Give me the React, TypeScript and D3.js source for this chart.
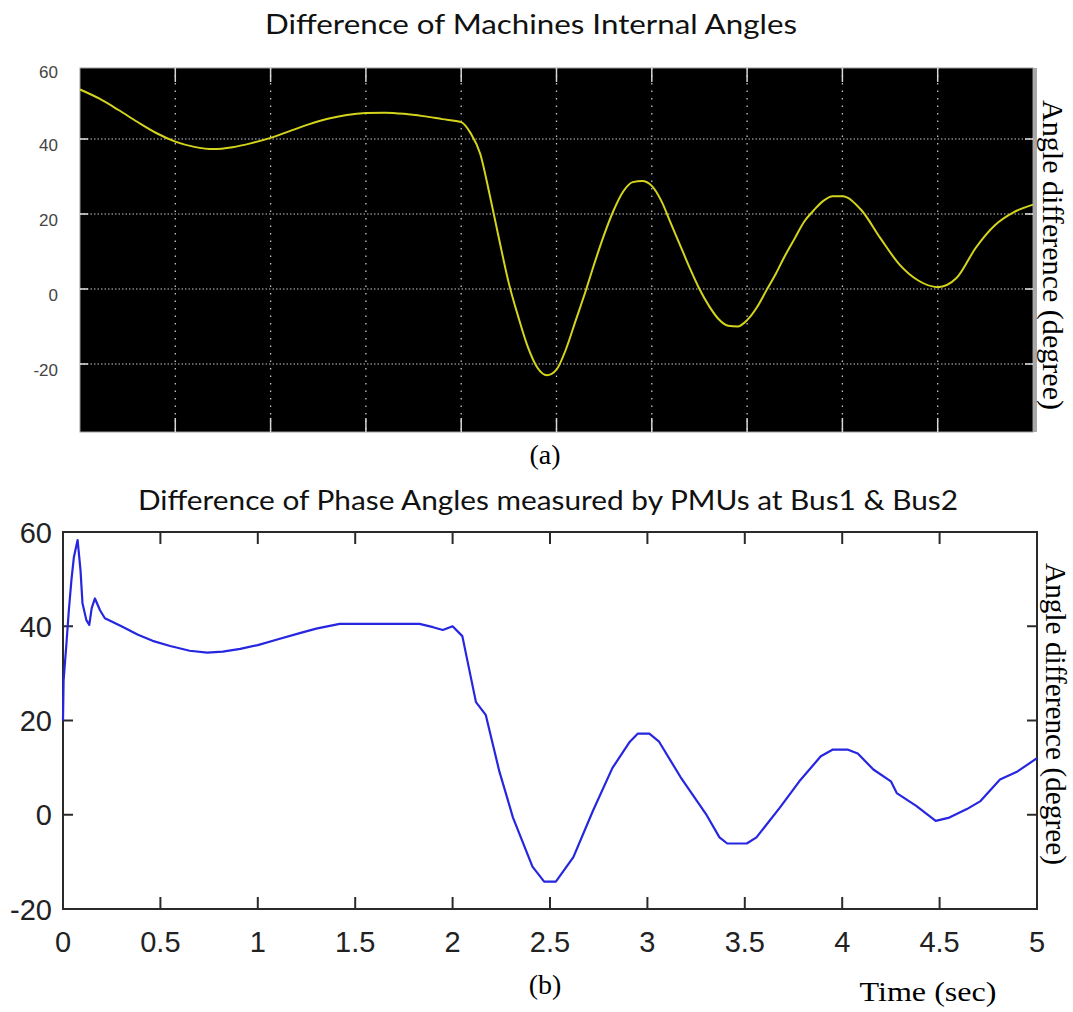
import React from "react";
import * as d3 from "d3";

// ---------- Data ----------
// Panel (a): difference of machines internal angles (degree) vs time (s)
const timeA = [0, 0.1, 0.2, 0.3, 0.4, 0.5, 0.6, 0.7, 0.8, 0.9, 1.0, 1.1, 1.2, 1.3, 1.4, 1.5, 1.6, 1.7, 1.8, 1.9, 2.0,
  2.05, 2.1, 2.15, 2.2, 2.25, 2.3, 2.35, 2.4, 2.45, 2.5, 2.55, 2.6, 2.65, 2.7, 2.75, 2.8, 2.85, 2.9, 2.95, 3.0,
  3.05, 3.1, 3.15, 3.2, 3.25, 3.3, 3.35, 3.4, 3.45, 3.5, 3.55, 3.6, 3.65, 3.7, 3.75, 3.8, 3.85, 3.9, 3.95, 4.0,
  4.1, 4.2, 4.3, 4.4, 4.5, 4.6, 4.7, 4.8, 4.9, 5.0];
const angleA = [53.2, 50.8, 47.8, 44.6, 41.6, 39.3, 37.9, 37.3, 37.8, 38.9, 40.3, 42.1, 43.9, 45.4, 46.4, 46.9, 47.0, 46.7, 46.1, 45.3, 44.5,
  41.5, 36.0, 25.0, 13.0, 1.5, -7.5, -15.5, -21.0, -23.0, -21.5, -16.0, -8.5, -1.0, 7.0, 14.5, 21.0, 26.0, 28.5, 28.8, 27.5,
  23.5, 17.5, 11.5, 5.5, 0.0, -4.5, -8.0, -9.8, -10.0, -8.3, -5.0, -0.5, 4.0, 9.0, 13.5, 18.0, 21.0, 23.5, 24.7, 24.7,
  21.0, 13.5, 6.5, 2.2, 0.5, 3.0, 11.0, 17.0, 20.5, 22.5];

// Panel (b): difference of phase angles measured by PMUs at Bus1 & Bus2
const timeB = [0, 0.003, 0.018, 0.03, 0.043, 0.056, 0.075, 0.09, 0.1, 0.12, 0.135, 0.147, 0.164, 0.19, 0.215, 0.3, 0.385,
  0.46, 0.55, 0.65, 0.74, 0.82, 0.91, 1.0, 1.1, 1.22, 1.3, 1.42, 1.6, 1.83, 1.9, 1.95, 2.0, 2.05, 2.12, 2.17, 2.24,
  2.31, 2.41, 2.47, 2.53, 2.62, 2.72, 2.82, 2.91, 2.95, 3.01, 3.06, 3.17, 3.3, 3.37, 3.41, 3.51, 3.56, 3.68, 3.78,
  3.89, 3.95, 4.03, 4.08, 4.16, 4.25, 4.28, 4.38, 4.48, 4.55, 4.64, 4.71, 4.81, 4.9, 5.0];
const angleB = [20, 28.5, 36.5, 43.4, 49.7, 54.7, 58.3, 51.8, 44.9, 41.3, 40.3, 43.8, 45.9, 43.4, 41.7, 40.0, 38.2,
  36.9, 35.8, 34.8, 34.4, 34.6, 35.2, 36.0, 37.2, 38.6, 39.5, 40.5, 40.5, 40.5, 39.8, 39.2, 40.0, 37.9, 23.9, 21.2, 9.2,
  -0.6, -11.0, -14.2, -14.2, -9.0, 0.8, 9.9, 15.5, 17.2, 17.2, 15.5, 8.0, 0.2, -4.8, -6.1, -6.1, -4.8, 1.5, 7.1,
  12.4, 13.8, 13.8, 13.0, 9.6, 7.1, 4.6, 1.9, -1.3, -0.6, 1.2, 2.9, 7.5, 9.2, 12.0];

// Ticks and labels
const titleA = "Difference of Machines Internal Angles";
const titleB = "Difference of Phase Angles measured by PMUs at Bus1 & Bus2";
const yTicksA = [60, 40, 20, 0, -20];
const yGridA = [40, 20, 0, -20];
const xGridA = [0.5, 1, 1.5, 2, 2.5, 3, 3.5, 4, 4.5];
const yTicksB = [60, 40, 20, 0, -20];
const xTicksB = [0, 0.5, 1, 1.5, 2, 2.5, 3, 3.5, 4, 4.5, 5];
const xTickLabelsB = ["0", "0.5", "1", "1.5", "2", "2.5", "3", "3.5", "4", "4.5", "5"];
const yAxisLabel = "Angle difference (degree)";
const xAxisLabel = "Time (sec)";

export default function App() {
  // Panel A scales
  const xA = d3.scaleLinear().domain([0, 5]).range([80, 1033]);
  const yA = d3.scaleLinear().domain([-38.13, 58.93]).range([432, 68]);
  // Panel B scales
  const xB = d3.scaleLinear().domain([0, 5]).range([63, 1037]);
  const yB = d3.scaleLinear().domain([-20, 60]).range([909, 532]);

  const ptsA: [number, number][] = timeA.map((t, i) => [t, angleA[i]]);
  const ptsB: [number, number][] = timeB.map((t, i) => [t, angleB[i]]);

  const lineA = d3.line<[number, number]>().x(d => xA(d[0])).y(d => yA(d[1])).curve(d3.curveMonotoneX);
  const lineB = d3.line<[number, number]>().x(d => xB(d[0])).y(d => yB(d[1])).curve(d3.curveLinear);

  const [ax0, ax1] = xA.range();
  const [ay0, ay1] = [yA.range()[1], yA.range()[0]];
  const [bx0, bx1] = xB.range();
  const [by0, by1] = [yB(60), yB(-20)];

  const sans = "'Liberation Sans', Arial, sans-serif";
  const serif = "'Liberation Serif', 'Times New Roman', serif";
  const titleFont = "Lato, 'Open Sans', sans-serif";

  return (
    <svg width={1073} height={1012} style={{ position: "absolute", left: 0, top: 0, background: "#fff" }}
      xmlns="http://www.w3.org/2000/svg">
      <rect x={0} y={0} width={1073} height={1012} fill="#fff" />

      {/* ===== Panel (a) ===== */}
      <text x={531} y={34} textAnchor="middle" fontFamily={titleFont} fontSize={27} fill="#111"
        textLength={532} lengthAdjust="spacingAndGlyphs">{titleA}</text>
      <rect x={ax0} y={ay0} width={ax1 - ax0} height={ay1 - ay0} fill="#000" stroke="#9a9a9a" strokeWidth={1} />
      <rect x={ax1} y={ay0} width={4} height={ay1 - ay0} fill="#a8a8a8" />
      {yGridA.map(v => (
        <g key={"gya" + v}>
          <line x1={ax0} x2={ax1} y1={yA(v)} y2={yA(v)} stroke="#c4c4c4" strokeWidth={1.2} strokeDasharray="1.5,2" />
          <line x1={ax0} x2={ax0 + 8} y1={yA(v)} y2={yA(v)} stroke="#e0e0e0" strokeWidth={1.5} />
          <line x1={ax1 - 8} x2={ax1} y1={yA(v)} y2={yA(v)} stroke="#e0e0e0" strokeWidth={1.5} />
        </g>
      ))}
      {xGridA.map(t => (
        <g key={"gxa" + t}>
          <line x1={xA(t)} x2={xA(t)} y1={ay0} y2={ay1} stroke="#c4c4c4" strokeWidth={1.3} strokeDasharray="1.5,6" />
          <line x1={xA(t)} x2={xA(t)} y1={ay0} y2={ay0 + 14} stroke="#d8d8d8" strokeWidth={1.5} />
          <line x1={xA(t)} x2={xA(t)} y1={ay1 - 14} y2={ay1} stroke="#d8d8d8" strokeWidth={1.5} />
        </g>
      ))}
      <path d={lineA(ptsA) || ""} fill="none" stroke="#d4d41c" strokeWidth={2} />
      {yTicksA.map(v => (
        <text key={"tya" + v} x={58} y={Math.max(yA(v), 66) + 12} textAnchor="end" fontFamily={sans} fontSize={17} fill="#444">{v}</text>
      ))}
      <text x={545} y={464} textAnchor="middle" fontFamily={serif} fontSize={28} fill="#000">(a)</text>
      <text transform={`translate(1043, 100) rotate(90)`} x={0} y={0} fontFamily={serif} fontSize={29} fill="#000"
        textLength={310} lengthAdjust="spacingAndGlyphs">{yAxisLabel}</text>

      {/* ===== Panel (b) ===== */}
      <text x={548} y={510} textAnchor="middle" fontFamily={titleFont} fontSize={27} fill="#111"
        textLength={820} lengthAdjust="spacingAndGlyphs">{titleB}</text>
      <rect x={bx0} y={by0} width={bx1 - bx0} height={by1 - by0} fill="#fff" stroke="#2a2a2a" strokeWidth={2} />
      {xTicksB.map(t => (
        <g key={"txb" + t}>
          <line x1={xB(t)} x2={xB(t)} y1={by1} y2={by1 - 12} stroke="#2a2a2a" strokeWidth={2} />
          <line x1={xB(t)} x2={xB(t)} y1={by0} y2={by0 + 12} stroke="#2a2a2a" strokeWidth={2} />
        </g>
      ))}
      {yTicksB.map(v => (
        <g key={"tyb" + v}>
          <line x1={bx0} x2={bx0 + 10} y1={yB(v)} y2={yB(v)} stroke="#2a2a2a" strokeWidth={2} />
          <line x1={bx1 - 10} x2={bx1} y1={yB(v)} y2={yB(v)} stroke="#2a2a2a" strokeWidth={2} />
        </g>
      ))}
      <path d={lineB(ptsB) || ""} fill="none" stroke="#2626e0" strokeWidth={2.2} strokeLinejoin="round" />
      {yTicksB.map(v => (
        <text key={"lyb" + v} x={52} y={yB(v) + 10.5} textAnchor="end" fontFamily={sans} fontSize={29} fill="#222">{v}</text>
      ))}
      {xTicksB.map((t, i) => (
        <text key={"lxb" + t} x={xB(t)} y={952} textAnchor="middle" fontFamily={sans} fontSize={29} fill="#222">{xTickLabelsB[i]}</text>
      ))}
      <text x={545} y={994} textAnchor="middle" fontFamily={serif} fontSize={28} fill="#000">(b)</text>
      <text x={928} y={1001} textAnchor="middle" fontFamily={serif} fontSize={28} fill="#000"
        textLength={137} lengthAdjust="spacingAndGlyphs">{xAxisLabel}</text>
      <text transform={`translate(1046, 563) rotate(90)`} x={0} y={0} fontFamily={serif} fontSize={29} fill="#000"
        textLength={302} lengthAdjust="spacingAndGlyphs">{yAxisLabel}</text>
    </svg>
  );
}
